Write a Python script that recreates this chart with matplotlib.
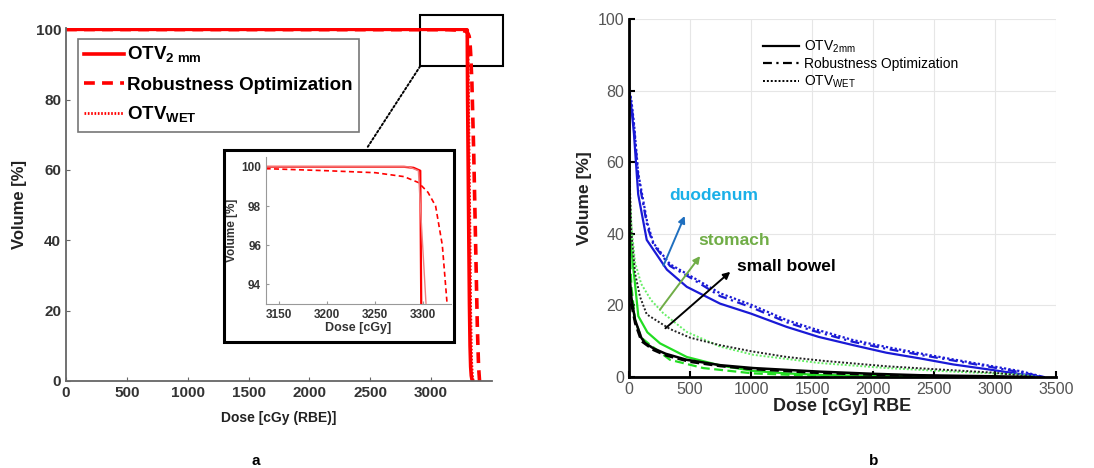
import matplotlib.pyplot as plt
from matplotlib.patches import Rectangle, ConnectionPatch

plt.rcParams['font.family'] = ['Liberation Sans', 'DejaVu Sans']
plt.rcParams['mathtext.fontset'] = 'custom'
plt.rcParams['mathtext.rm'] = 'Liberation Sans'
plt.rcParams['mathtext.bf'] = 'Liberation Sans:bold'

# ---- panel a: target DVH (dose cGy, volume %)
otv2_dose = [0, 3280, 3290, 3297, 3298, 3300, 3305, 3310, 3315, 3320, 3325, 3330, 3335, 3342]
otv2_vol = [100, 100, 99.95, 99.8, 93, 80, 60, 40, 22, 10, 4, 1.5, 0.5, 0]
wet_dose = [0, 3285, 3295, 3303, 3306, 3310, 3318, 3325, 3332, 3340, 3346]
wet_vol = [100, 100, 99.8, 93, 85, 70, 45, 20, 6, 1, 0]
rob_dose = [0, 3140, 3200, 3250, 3280, 3295, 3305, 3313, 3320, 3325, 3335, 3350, 3365, 3380, 3390, 3398]
rob_vol = [99.95, 99.9, 99.8, 99.7, 99.5, 99.2, 98.7, 98, 96, 93, 85, 65, 40, 15, 4, 0]

# ---- panel b: organ-at-risk DVHs
duo_solid_d = [0, 20, 40, 75, 145, 310, 473, 746, 1000, 1292, 1555, 1838, 2108, 2385, 2660, 2931, 3213, 3400]
duo_solid_v = [80, 75, 68, 51, 38.3, 30, 25.2, 20.5, 17.7, 14, 11.2, 8.9, 6.8, 5.2, 3.5, 2.2, 0.8, 0]
duo_dash_d = [0, 20, 40, 75, 150, 200, 336, 500, 746, 1000, 1292, 1500, 1838, 2108, 2385, 2660, 2931, 3213, 3400]
duo_dash_v = [80, 76, 70, 56, 42, 37, 31, 27.8, 22.6, 19.5, 15.3, 13, 9.8, 7.9, 6.2, 4.6, 3.0, 1.3, 0]
duo_dot_d = [0, 20, 40, 75, 150, 200, 336, 500, 746, 1000, 1292, 1500, 1838, 2108, 2385, 2660, 2931, 3213, 3400]
duo_dot_v = [81, 77, 71, 57, 43, 37.4, 31.5, 28.3, 23.4, 20.2, 15.9, 13.6, 10.3, 8.4, 6.6, 4.9, 3.3, 1.6, 0]

sto_solid_d = [0, 20, 49, 76, 150, 254, 473, 750, 1019, 1300, 1565, 2000, 2500, 3000]
sto_solid_v = [45, 35, 26, 17, 12.5, 9.4, 5.6, 3.2, 1.7, 1.0, 0.6, 0.3, 0.1, 0]
sto_dash_d = [0, 20, 49, 100, 172, 336, 609, 1019, 1565, 2000, 2500]
sto_dash_v = [40, 25, 16, 11, 9, 4.8, 2.5, 1.0, 0.3, 0.1, 0]
sto_dot_d = [0, 20, 49, 100, 180, 281, 473, 746, 1019, 1565, 2112, 2658, 3205, 3350]
sto_dot_v = [55, 42, 32, 26, 21.5, 17.8, 12.6, 8.5, 6.2, 3.9, 2.5, 1.5, 0.7, 0]

sb_solid_d = [0, 0, 20, 49, 100, 131, 200, 300, 473, 750, 1019, 1565, 2000, 2385, 3000, 3300]
sb_solid_v = [100, 30, 22, 16, 11, 9.5, 8, 6.5, 4.8, 3.3, 2.5, 1.5, 0.9, 0.5, 0.2, 0]
sb_dash_d = [0, 20, 49, 100, 200, 300, 500, 750, 1000, 1500, 2000, 2500, 3000]
sb_dash_v = [28, 20, 15, 10, 7.5, 6, 4.2, 3, 2.2, 1.2, 0.6, 0.3, 0]
sb_dot_d = [0, 20, 49, 90, 145, 336, 500, 746, 1000, 1292, 1600, 2112, 2500, 3000, 3300]
sb_dot_v = [60, 40, 29, 22.4, 17.5, 13.4, 11, 8.9, 7.2, 5.6, 4.5, 3.0, 2.2, 1.2, 0]

dose_ticks = [0, 500, 1000, 1500, 2000, 2500, 3000]
dose_ticks_b = [0, 500, 1000, 1500, 2000, 2500, 3000, 3500]
vol_ticks = [0, 20, 40, 60, 80, 100]
inset_xticks = [3150, 3200, 3250, 3300]
inset_yticks = [94, 96, 98, 100]

fig = plt.figure(figsize=(10.94, 4.68), dpi=100)

# ================= panel a
axa = fig.add_axes([0.0603, 0.186, 0.3894, 0.7543])
red = '#ff0000'
axa.plot(otv2_dose, otv2_vol, color=red, lw=2.6, label='OTV$_{\\mathbf{2\\ mm}}$')
axa.plot(rob_dose, rob_vol, color=red, lw=2.6, ls=(0, (3, 2)), label='Robustness Optimization')
axa.plot(wet_dose, wet_vol, color=red, lw=2.0, ls=(0, (0.6, 0.6)), label='OTV$_{\\mathbf{WET}}$')
axa.set_xlim(0, 3500)
axa.set_ylim(0, 100.4)
axa.set_xticks(dose_ticks)
axa.set_yticks(vol_ticks)
for s in ['top', 'right']:
    axa.spines[s].set_visible(False)
for s in ['left', 'bottom']:
    axa.spines[s].set_color('#666666')
    axa.spines[s].set_linewidth(1.3)
axa.tick_params(direction='in', length=3, color='#666666', labelsize=11, labelcolor='#333333')
for lab in axa.get_xticklabels() + axa.get_yticklabels():
    lab.set_fontweight('bold')
axa.set_xlabel('Dose [cGy (RBE)]', fontsize=10, fontweight='bold', color='#222222', labelpad=8)
axa.set_ylabel('Volume [%]', fontsize=12, fontweight='bold', color='#222222', labelpad=6)
lega = axa.legend(loc='upper left', bbox_to_anchor=(0.028, 0.97), borderaxespad=0,
                  prop={'weight': 'bold', 'size': 13.5}, handlelength=2.1, handletextpad=0.15,
                  labelspacing=0.6, borderpad=0.35, fancybox=False, framealpha=1)
lega.get_frame().set_edgecolor('#777777')
lega.get_frame().set_linewidth(1.2)

# zoom box and connector
axa.add_patch(Rectangle((2910, 89.5), 680, 14.5, fill=False, ec='black', lw=1.5, clip_on=False))

# inset frame
fig.add_artist(Rectangle((224 / 1094, 1 - 342 / 468), 230 / 1094, 192 / 468,
                         transform=fig.transFigure, fill=False, ec='black', lw=2.2))
con = ConnectionPatch(xyA=(2910, 89.5), coordsA=axa.transData,
                      xyB=(367 / 1094, 1 - 148 / 468), coordsB=fig.transFigure,
                      ls=(0, (1, 1.2)), color='black', lw=1.4)
fig.add_artist(con)

axi = fig.add_axes([0.2431, 0.3504, 0.1691, 0.3141])
axi.plot(otv2_dose, otv2_vol, color=red, lw=1.6)
axi.plot(rob_dose, rob_vol, color=red, lw=1.2, ls=(0, (3, 2)))
axi.plot(wet_dose, wet_vol, color='#f08080', lw=1.0)
axi.set_xlim(3136, 3329)
axi.set_ylim(93, 100.5)
axi.set_xticks(inset_xticks)
axi.set_yticks(inset_yticks)
for s in ['top', 'right']:
    axi.spines[s].set_visible(False)
for s in ['left', 'bottom']:
    axi.spines[s].set_color('#999999')
axi.tick_params(direction='in', length=2, color='#999999', labelsize=8.5, labelcolor='#333333')
for lab in axi.get_xticklabels() + axi.get_yticklabels():
    lab.set_fontweight('bold')
axi.set_xlabel('Dose [cGy]', fontsize=9, fontweight='bold', color='#333333', labelpad=1)
axi.set_ylabel('Volume [%]', fontsize=8.5, fontweight='bold', color='#333333', labelpad=2)

# ================= panel b
axb = fig.add_axes([0.575, 0.1944, 0.3903, 0.765])
blue = '#1a1ad6'
green = '#22dd22'
axb.plot(duo_solid_d, duo_solid_v, color=blue, lw=1.6)
axb.plot(duo_dash_d, duo_dash_v, color=blue, lw=1.6, ls=(0, (4, 2, 1, 2)))
axb.plot(duo_dot_d, duo_dot_v, color=blue, lw=1.6, ls=(0, (1, 1)))
axb.plot(sto_solid_d, sto_solid_v, color=green, lw=1.6)
axb.plot(sto_dash_d, sto_dash_v, color=green, lw=1.6, ls=(0, (4, 2)))
axb.plot(sto_dot_d, sto_dot_v, color='#66ee66', lw=1.4, ls=(0, (1, 1)))
axb.plot(sb_solid_d, sb_solid_v, color='black', lw=1.8)
axb.plot(sb_dash_d, sb_dash_v, color='black', lw=1.6, ls=(0, (4, 2)))
axb.plot(sb_dot_d, sb_dot_v, color='#222222', lw=1.4, ls=(0, (1, 1)))

axb.set_xlim(0, 3500)
axb.set_ylim(0, 100)
axb.set_xticks(dose_ticks_b)
axb.set_yticks(vol_ticks)
axb.grid(True, color='#e6e6e6', lw=0.8)
axb.set_axisbelow(True)
for s in ['top', 'right']:
    axb.spines[s].set_visible(False)
for s in ['left', 'bottom']:
    axb.spines[s].set_color('black')
    axb.spines[s].set_linewidth(2)
axb.tick_params(direction='in', length=4, width=1.5, labelsize=11.5, labelcolor='#555555')
axb.set_xlabel('Dose [cGy] RBE', fontsize=13, fontweight='bold', color='#222222', labelpad=1)
axb.set_ylabel('Volume [%]', fontsize=12.5, fontweight='bold', color='#222222', labelpad=4)

# legend (style only)
leg_h = [plt.Line2D([], [], color='black', lw=1.6),
         plt.Line2D([], [], color='black', lw=1.6, ls=(0, (4, 2, 1, 2))),
         plt.Line2D([], [], color='black', lw=1.4, ls=(0, (1, 1)))]
axb.legend(leg_h, ['OTV$_{\\mathregular{2mm}}$', 'Robustness Optimization', 'OTV$_{\\mathregular{WET}}$'],
           loc='upper left', bbox_to_anchor=(0.3, 0.96), frameon=False, fontsize=10,
           handlelength=2.6, handletextpad=0.4, labelspacing=0.15, borderaxespad=0)

# organ annotations
axb.annotate('', xy=(465, 45.7), xytext=(273, 30.4),
             arrowprops=dict(arrowstyle='-|>', color='#1f6fbf', lw=1.4, mutation_scale=10))
axb.annotate('', xy=(596, 34.4), xytext=(240, 18.2),
             arrowprops=dict(arrowstyle='-|>', color='#70ad47', lw=1.4, mutation_scale=10))
axb.annotate('', xy=(847, 29.9), xytext=(281, 13.1),
             arrowprops=dict(arrowstyle='-|>', color='black', lw=1.4, mutation_scale=10))
axb.text(697, 50.6, 'duodenum', color='#1ab0e8', fontsize=12.5, fontweight='bold', ha='center', va='center')
axb.text(858, 38.0, 'stomach', color='#70ad47', fontsize=12.5, fontweight='bold', ha='center', va='center')
axb.text(1287, 30.8, 'small bowel', color='black', fontsize=12.5, fontweight='bold', ha='center', va='center')

fig.text(256 / 1094, 0.015, 'a', fontsize=11, fontweight='bold', ha='center', va='center')
fig.text(874 / 1094, 0.015, 'b', fontsize=11, fontweight='bold', ha='center', va='center')

fig.savefig('out.png', dpi=100)
